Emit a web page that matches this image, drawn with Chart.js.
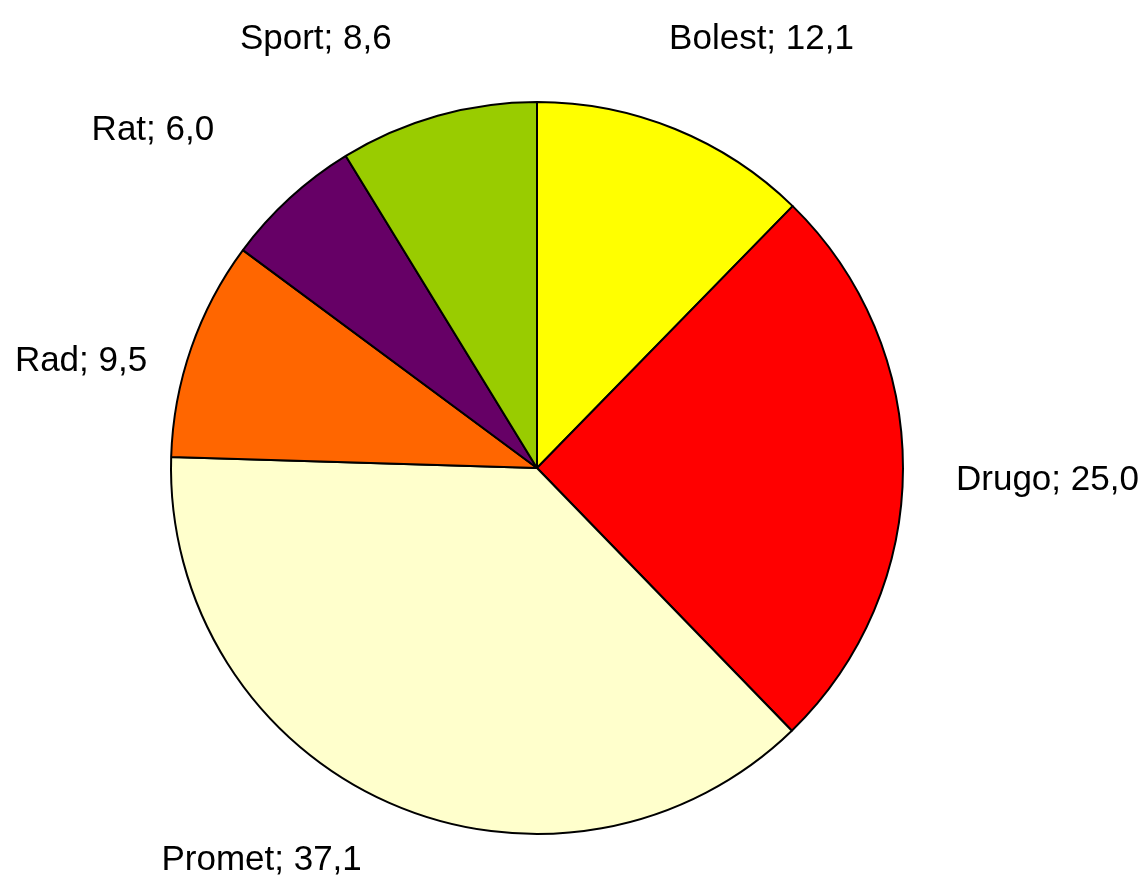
<!DOCTYPE html>
<html>
<head>
<meta charset="utf-8">
<script src="https://cdn.jsdelivr.net/npm/chart.js@4/dist/chart.umd.min.js"></script>
<style>
    html, body { margin: 0; padding: 0; background: #ffffff; }
    #wrap { width: 1147px; height: 878px; }
</style>
</head>
<body>
<div id="wrap"><canvas id="grafico" width="1147" height="878"></canvas></div>
<script>
var kategorije = ['Bolest', 'Drugo', 'Promet', 'Rad', 'Rat', 'Sport'];
var vrijednosti = [12.1, 25.0, 37.1, 9.5, 6.0, 8.6];
var boje = ['#ffff00', '#ff0000', '#ffffcc', '#ff6600', '#660066', '#99cc00'];

// pomaci oznaka od izracunatog polozaja (px)
var pomaciOznaka = {
    'Bolest': [29, -21],
    'Drugo': [-7, 9],
    'Promet': [-63, -16],
    'Rad': [9, 36],
    'Rat': [-55, -13],
    'Sport': [-85, -5]
};

function formatirajBroj(v) {
    return v.toFixed(1).replace('.', ',');
}

var oznakePlugin = {
    id: 'oznake',
    afterDatasetsDraw: function (chart) {
        var ctx = chart.ctx;
        var meta = chart.getDatasetMeta(0);
        var velicina = 35;
        var razmak = 60;

        ctx.save();
        ctx.font = velicina + 'px "Liberation Sans", Arial, sans-serif';
        ctx.fillStyle = '#000000';
        ctx.textAlign = 'center';
        ctx.textBaseline = 'alphabetic';

        meta.data.forEach(function (luk, i) {
            var p = luk.getProps(['x', 'y', 'startAngle', 'endAngle', 'outerRadius'], true);
            var kut = (p.startAngle + p.endAngle) / 2;
            var cx = Math.cos(kut);
            var cy = Math.sin(kut);
            var tekst = kategorije[i] + '; ' + formatirajBroj(vrijednosti[i]);
            var w = ctx.measureText(tekst).width;
            var px = p.x + (p.outerRadius + razmak) * cx;
            var py = p.y + (p.outerRadius + razmak) * cy;
            var sx = px + cx * w / 2;
            var sy = py + cy * velicina / 2;
            var pomak = pomaciOznaka[kategorije[i]] || [0, 0];
            sx += pomak[0];
            sy += pomak[1];
            ctx.fillText(tekst, sx, sy + 0.358 * velicina);
        });

        ctx.restore();
    }
};

new Chart(document.getElementById('grafico').getContext('2d'), {
    type: 'pie',
    data: {
        labels: kategorije,
        datasets: [{
            data: vrijednosti,
            backgroundColor: boje,
            borderColor: '#000000',
            borderWidth: 2
        }]
    },
    options: {
        responsive: false,
        animation: false,
        layout: {
            padding: { top: 101, bottom: 43, left: 170, right: 243 }
        },
        plugins: {
            legend: { display: false },
            tooltip: { enabled: false }
        }
    },
    plugins: [oznakePlugin]
});
</script>
</body>
</html>
